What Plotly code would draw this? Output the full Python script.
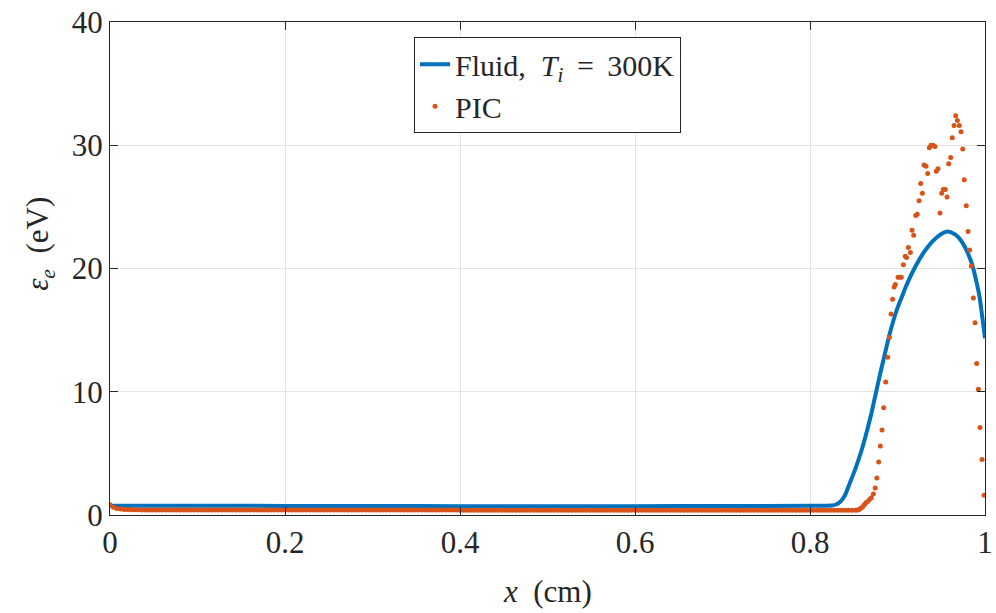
import plotly.graph_objects as go

# ---------------- data ----------------
# Fluid model, T_i = 300 K
fluid_x = [0.0, 0.1, 0.2, 0.3, 0.4, 0.5, 0.6, 0.7, 0.8, 0.825, 0.83, 0.835, 0.84,
           0.845, 0.85, 0.855, 0.86, 0.865, 0.87, 0.875, 0.88, 0.885, 0.89, 0.895,
           0.9, 0.905, 0.91, 0.92, 0.93, 0.94, 0.95, 0.957, 0.965, 0.97, 0.975,
           0.98, 0.985, 0.99, 0.994, 0.997, 1.0]
fluid_y = [0.75, 0.75, 0.74, 0.73, 0.72, 0.72, 0.72, 0.73, 0.75, 0.78, 0.85, 1.1, 1.6,
           2.5, 3.4, 4.4, 5.5, 6.8, 8.2, 9.8, 11.4, 12.9, 14.4, 15.7,
           16.8, 17.7, 18.6, 20.1, 21.3, 22.2, 22.8, 23.0, 22.8, 22.5, 22.0,
           21.3, 20.4, 19.0, 17.6, 16.0, 14.35]

# PIC: near-wall start and flat bulk region (x step 0.004)
pic_base_y = [
    0.83, 0.62, 0.53, 0.48, 0.45, 0.44, 0.43, 0.42, 0.42, 0.41,
    0.41, 0.41, 0.40, 0.40, 0.40, 0.40, 0.40, 0.40, 0.40, 0.40,
    0.40, 0.40, 0.40, 0.40, 0.40, 0.40, 0.40, 0.40, 0.40, 0.40,
    0.40, 0.40, 0.40, 0.40, 0.40, 0.40, 0.40, 0.40, 0.40, 0.40,
    0.40, 0.40, 0.40, 0.40, 0.40, 0.40, 0.40, 0.40, 0.40, 0.40,
    0.40, 0.40, 0.40, 0.40, 0.40, 0.40, 0.40, 0.40, 0.40, 0.40,
    0.40, 0.40, 0.40, 0.40, 0.40, 0.40, 0.40, 0.40, 0.40, 0.40,
    0.40, 0.40, 0.40, 0.40, 0.40, 0.40, 0.40, 0.40, 0.40, 0.40,
    0.40, 0.40, 0.40, 0.40, 0.40, 0.40, 0.40, 0.40, 0.40, 0.40,
    0.40, 0.40, 0.40, 0.40, 0.40, 0.40, 0.40, 0.40, 0.40, 0.40,
    0.39, 0.39, 0.39, 0.39, 0.39, 0.39, 0.39, 0.39, 0.39, 0.39,
    0.39, 0.39, 0.39, 0.39, 0.39, 0.39, 0.39, 0.39, 0.39, 0.39,
    0.39, 0.39, 0.39, 0.39, 0.39, 0.39, 0.39, 0.39, 0.39, 0.39,
    0.38, 0.38, 0.38, 0.38, 0.38, 0.38, 0.38, 0.38, 0.38, 0.38,
    0.38, 0.38, 0.38, 0.38, 0.38, 0.38, 0.38, 0.38, 0.38, 0.38,
    0.38, 0.38, 0.38, 0.38, 0.38, 0.38, 0.38, 0.38, 0.38, 0.38,
    0.38, 0.38, 0.38, 0.38, 0.38, 0.38, 0.38, 0.38, 0.38, 0.38,
    0.38, 0.38, 0.38, 0.38, 0.38, 0.38, 0.38, 0.38, 0.38, 0.38,
    0.38, 0.38, 0.38, 0.38, 0.38, 0.38, 0.38, 0.38, 0.38, 0.38,
    0.38, 0.38, 0.38, 0.38, 0.38, 0.38, 0.38, 0.38, 0.38, 0.38,
    0.38, 0.38, 0.38, 0.38, 0.38, 0.38, 0.38, 0.38, 0.38, 0.38,
    0.38, 0.38, 0.38, 0.38,
]
pic_base_x = [i * 0.004 for i in range(len(pic_base_y))]

# PIC: sheath region near x = 1 (read point by point)
pic_peak_x = [0.854, 0.856, 0.858, 0.860, 0.862, 0.864, 0.866, 0.868, 0.870, 0.8724,
              0.8745, 0.8764, 0.8785, 0.8804, 0.8823, 0.8842, 0.8865, 0.8888, 0.8907,
              0.8926, 0.8944, 0.8962, 0.8975, 0.9006, 0.9028, 0.9043, 0.9067, 0.9088,
              0.9103, 0.9124, 0.9147, 0.9166, 0.9185, 0.9208, 0.9226, 0.9246, 0.9265,
              0.9284, 0.9303, 0.9326, 0.9345, 0.9364, 0.9383, 0.9406, 0.9429, 0.9443,
              0.9463, 0.9486, 0.9505, 0.9523, 0.9546, 0.9566, 0.9585, 0.9608, 0.9626,
              0.9646, 0.9665, 0.9684, 0.9706, 0.9726, 0.9745, 0.9763, 0.9786, 0.9806,
              0.9825, 0.9843, 0.9867, 0.9886, 0.9905, 0.9924, 0.9943, 0.9966, 0.9989]
pic_peak_y = [0.40, 0.45, 0.55, 0.65, 0.84, 1.0, 1.1, 1.25, 1.4, 1.7,
              2.2, 3.0, 4.3, 5.6, 6.9, 8.7, 10.8, 12.8, 14.4,
              16.3, 17.5, 18.5, 18.7, 19.3, 19.3, 19.3, 20.3, 21.0,
              20.9, 21.7, 21.3, 23.1, 22.7, 24.3, 24.4, 25.5, 26.9,
              26.1, 28.4, 28.3, 27.7, 29.8, 30.0, 30.0, 29.9, 27.9,
              28.1, 24.5, 26.1, 26.4, 26.4, 25.8, 28.5, 29.0, 30.6,
              31.6, 32.4, 32.0, 31.6, 31.1, 29.7, 27.2, 25.1, 23.0,
              21.5, 20.2, 17.6, 15.6, 12.3, 10.2, 7.1, 4.5, 1.6]

pic_x = pic_base_x + pic_peak_x
pic_y = pic_base_y + pic_peak_y

x_ticks = [0, 0.2, 0.4, 0.6, 0.8, 1]
x_tick_labels = ["0", "0.2", "0.4", "0.6", "0.8", "1"]
y_ticks = [0, 10, 20, 30, 40]
y_tick_labels = ["0", "10", "20", "30", "40"]

x_title = "<i>x</i>  (cm)"
y_title = "<i>ε</i><sub><i>e</i></sub>  (eV)"
fluid_name = "Fluid,\u2002<i>T</i><sub><i>i</i></sub>\u2009 = \u2009300K"
pic_name = "PIC"

# ---------------- figure ----------------
BLUE = "#0072BD"
ORANGE = "#D95319"
FONT = "'Liberation Serif', 'Times New Roman', Times, serif"
AXC = "#262626"
FS = 31

fig = go.Figure()
fig.add_trace(go.Scatter(
    x=fluid_x, y=fluid_y, mode="lines",
    line=dict(color=BLUE, width=4, shape="spline", smoothing=0.6),
    name=fluid_name,
))
fig.add_trace(go.Scatter(
    x=pic_x, y=pic_y, mode="markers",
    marker=dict(color=ORANGE, size=5, line=dict(width=0)),
    name=pic_name,
))

axis_common = dict(
    showline=True, linecolor=AXC, linewidth=1, mirror="ticks",
    ticks="inside", ticklen=8, tickcolor=AXC, tickwidth=1,
    showgrid=True, gridcolor="#E3E3E3", gridwidth=1,
    zeroline=False, automargin=False, ticklabeloverflow="allow",
    tickfont=dict(family=FONT, size=FS, color=AXC),
)

fig.update_xaxes(range=[0, 1], tickvals=x_ticks, ticktext=x_tick_labels, **axis_common)
fig.update_yaxes(range=[0, 40], tickvals=y_ticks, ticktext=y_tick_labels, **axis_common)

fig.add_annotation(
    text=x_title, xref="paper", yref="paper", x=0.5, y=-0.156,
    xanchor="center", yanchor="middle", showarrow=False,
    font=dict(family=FONT, size=FS, color=AXC),
)
fig.add_annotation(
    text=y_title, xref="paper", yref="paper", x=-0.08, y=0.55,
    xanchor="center", yanchor="middle", showarrow=False, textangle=-90,
    font=dict(family=FONT, size=FS, color=AXC),
)

fig.update_layout(
    width=996, height=613,
    margin=dict(l=110, r=11, t=22, b=98),
    paper_bgcolor="white", plot_bgcolor="white",
    showlegend=True,
    legend=dict(
        x=0.5, xanchor="center", y=0.969, yanchor="top",
        bgcolor="white", bordercolor=AXC, borderwidth=1,
        font=dict(family=FONT, size=30, color=AXC),
        tracegroupgap=0, itemsizing="trace",
    ),
    font=dict(family=FONT, color=AXC),
)

fig.write_html(
    "out.html",
    config={"displayModeBar": False},
    post_script="document.body.style.margin='0';document.body.style.overflow='hidden';",
)
